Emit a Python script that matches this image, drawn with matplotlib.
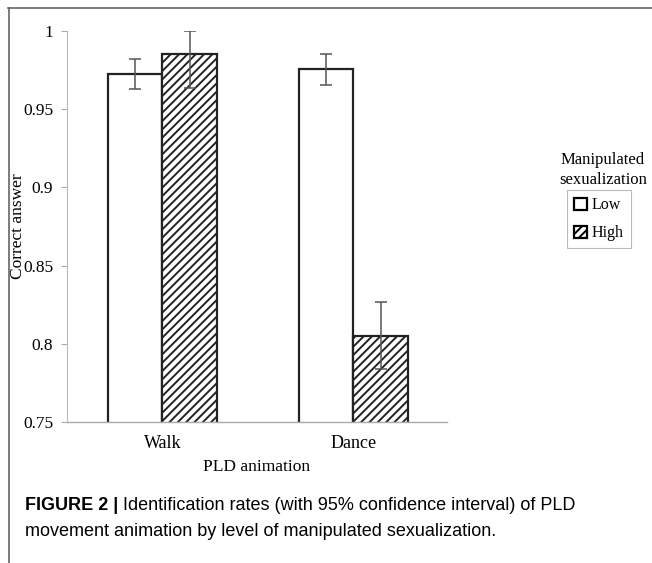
import matplotlib
matplotlib.use("Agg")
import matplotlib.pyplot as plt
from matplotlib.patches import Patch
from matplotlib.lines import Line2D
from matplotlib import font_manager

categories = ["Walk", "Dance"]
series_names = ["Low", "High"]
low_values = [0.9725, 0.9755]
high_values = [0.985, 0.805]
low_err_lo = [0.963, 0.9657]
low_err_hi = [0.982, 0.985]
high_err_lo = [0.9637, 0.784]
high_err_hi = [1.0, 0.8265]
yticks = [0.75, 0.8, 0.85, 0.9, 0.95, 1.0]
yticklabels = ["0.75", "0.8", "0.85", "0.9", "0.95", "1"]

W, H = 652, 563
plt.rcParams['hatch.linewidth'] = 1.4
serif = "Liberation Serif"
avail = {f.name for f in font_manager.fontManager.ttflist}
narrow = "Liberation Sans Narrow" if "Liberation Sans Narrow" in avail else "Liberation Sans"

fig = plt.figure(figsize=(W/100, H/100), dpi=100)
ax = fig.add_axes([67/W, 1-422/H, (447-67)/W, (422-31)/H])

bw = 0.285
xs = list(range(len(categories)))
xl = [x - bw/2 for x in xs]
xh = [x + bw/2 for x in xs]
ax.bar(xl, low_values, width=bw, bottom=0, color="white", edgecolor="#222222", linewidth=1.6, zorder=2)
ax.bar(xh, high_values, width=bw, bottom=0, color="white", edgecolor="#222222", hatch="////", linewidth=1.6, zorder=2)

for xpos, v, lo, hi in zip(xl + xh, low_values + high_values, low_err_lo + high_err_lo, low_err_hi + high_err_hi):
    ax.errorbar(xpos, v, yerr=[[v - lo], [hi - v]], fmt="none", ecolor="#555555",
                elinewidth=1.1, capsize=4, capthick=1.1, zorder=3)

ax.set_ylim(0.75, 1.0)
ax.set_xlim(-0.5, 1.49)
ax.set_yticks(yticks)
ax.set_yticklabels(yticklabels, family=serif, fontsize=12.5)
ax.set_xticks(xs)
ax.set_xticklabels(categories, family=serif, fontsize=13)
ax.tick_params(axis="x", length=0, pad=9)
ax.tick_params(axis="y", length=4, color="#aaaaaa", width=0.8, pad=6)
for s in ["top", "right"]:
    ax.spines[s].set_visible(False)
ax.spines["left"].set_color("#bbbbbb")
ax.spines["left"].set_linewidth(0.8)
ax.spines["bottom"].set_color("#aaaaaa")
ax.spines["bottom"].set_linewidth(1.0)
ax.spines["left"].set_bounds(0.75, 1.0)

fig.text(18/W, 1-226/H, "Correct answer", rotation=90, ha="center", va="center",
         family=serif, fontsize=12.5)
fig.text(257/W, 1-467/H, "PLD animation", ha="center", va="center", family=serif, fontsize=12.5)

# legend
fig.text(603/W, 1-160/H, "Manipulated", ha="center", va="center", family=serif, fontsize=12)
fig.text(603/W, 1-180/H, "sexualization", ha="center", va="center", family=serif, fontsize=12)
handles = [Patch(facecolor="white", edgecolor="black", linewidth=1.6, label=series_names[0]),
           Patch(facecolor="white", edgecolor="black", hatch="////", linewidth=1.6, label=series_names[1])]
leg = fig.legend(handles=handles, loc="upper left", bbox_to_anchor=(567/W, 1-190/H),
                 prop={"family": serif, "size": 11.5}, frameon=True, fancybox=False,
                 edgecolor="#aaaaaa", handlelength=0.8, handleheight=0.8, handletextpad=0.3,
                 borderpad=0.45, labelspacing=0.75, borderaxespad=0)
leg.get_frame().set_linewidth(0.8)

# outer frame lines
fig.add_artist(Line2D([8/W, 1], [1-8/H, 1-8/H], color="#666666", lw=1.2))
fig.add_artist(Line2D([8.5/W, 8.5/W], [1-8/H, 0], color="#666666", lw=1.2))

# caption
fig.canvas.draw()
r = fig.canvas.get_renderer()
t1 = fig.text(25/W, 1-505/H, "FIGURE 2 |", ha="left", va="center", family=narrow,
              fontweight="bold", fontsize=13)
bb = t1.get_window_extent(renderer=r)
fig.text((bb.x1 + 5)/W, 1-505/H, "Identification rates (with 95% confidence interval) of PLD",
         ha="left", va="center", family=narrow, fontsize=13)
fig.text(25/W, 1-531/H, "movement animation by level of manipulated sexualization.",
         ha="left", va="center", family=narrow, fontsize=13)

fig.savefig("out.png", dpi=100)
